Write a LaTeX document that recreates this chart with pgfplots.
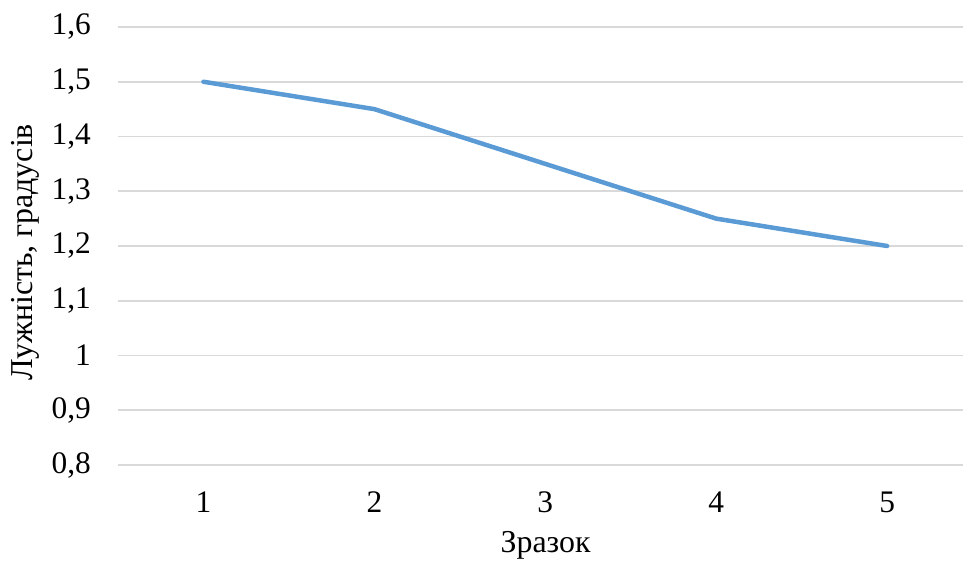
\documentclass[border=0pt]{standalone}
\usepackage{pgfplots}
\pgfplotsset{compat=1.18}
\usepackage{fontspec}
\setmainfont{Liberation Serif}
\definecolor{lineblue}{RGB}{91,155,213}
\definecolor{gridgray}{RGB}{217,217,217}
\begin{document}
\begin{tikzpicture}
\path[use as bounding box] (0,0) rectangle (963bp,562bp);
\begin{axis}[
  at={(118bp,97bp)}, anchor=south west,
  scale only axis,
  width=845bp, height=438bp,
  xmin=0.5, xmax=5.444,
  ymin=0.8, ymax=1.6,
  xtick={1,2,3,4,5},
  ytick={0.8,0.9,1.0,1.1,1.2,1.3,1.4,1.5,1.6},
  major tick length=0pt,
  axis line style={draw=none},
  ymajorgrids, xmajorgrids=false,
  major grid style={gridgray, line width=1.8bp},
  /pgf/number format/assume math mode=true,
  yticklabel style={/pgf/number format/.cd, use comma, fixed, precision=1, /tikz/.cd, anchor=east, inner sep=0pt, xshift=-27bp, font=\fontsize{31.5}{36}\selectfont},
  xticklabel style={anchor=north, inner sep=0pt, yshift=-27bp, font=\fontsize{31.5}{36}\selectfont},
  xlabel={Зразок},
  ylabel={Лужність, градусів},
  every axis x label/.style={at={(axis description cs:0.506,-0.2009)}, anchor=base, inner sep=0pt, font=\fontsize{32}{36}\selectfont},
  every axis y label/.style={at={(axis description cs:-0.1101,0.486)}, anchor=center, rotate=90, font=\fontsize{32}{36}\selectfont},
  clip=false,
]
\addplot[lineblue, line width=4.5bp, line join=round, line cap=round] coordinates {
  (1,1.5) (2,1.45) (3,1.35) (4,1.25) (5,1.2)
};
\end{axis}
\end{tikzpicture}
\end{document}
